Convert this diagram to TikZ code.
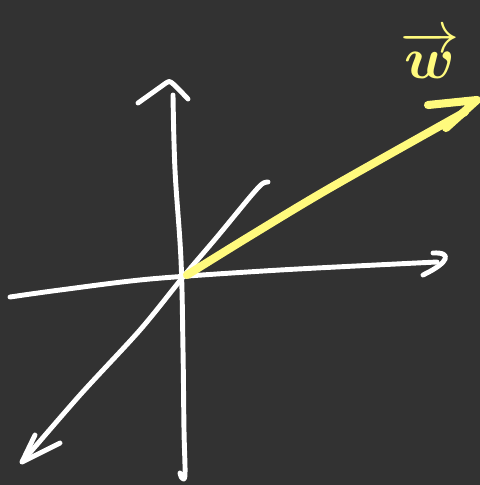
\documentclass[tikz,border=0pt]{standalone}
\usepackage{amsmath}
\usepackage{bm}
\usepackage{tikz}
\definecolor{board}{RGB}{50,50,50}
\definecolor{chalkyellow}{RGB}{255,250,125}

\begin{document}
\begin{tikzpicture}[x=0.02cm, y=-0.02cm,
    chalk/.style={draw=white, line width=2.8pt, line cap=round, line join=round},
    marker/.style={draw=chalkyellow, line width=4.6pt, line cap=round, line join=round},
    lbl/.style={text=chalkyellow, font=\Huge, inner sep=0pt}]
\fill[board] (0,0) rectangle (480,485);
\useasboundingbox (0,0) rectangle (480,485);
\coordinate (o) at (183,277);
% vertical axis
\draw[chalk] plot[smooth, tension=0.6] coordinates {(173,95) (175,170) (181,260) (183,350) (184,430) (185,474) (182,478) (180,473)};
\draw[chalk] (138,103) -- (166,83) .. controls (170,80) .. (188,99);
% horizontal axis
\draw[chalk] plot[smooth] coordinates {(10,297) (60,290) (150,279) (280,270) (437,262)};
\draw[chalk] (433,253) .. controls (452,252) and (450,262) .. (423,275);
% depth axis
\draw[chalk] plot[smooth] coordinates {(22,462) (80,395) (140,330) (o) (217,237) (250,197) (262,184) (268,182)};
\draw[chalk] (35,435) -- (22,462) -- (60,443);
% vector w
\draw[marker] plot[smooth] coordinates {(187,275) (250,236) (330,188) (465,112)};
\draw[marker] (428,105) -- (477,100) -- (446,128);
\node[lbl] (wlabel) at (430,55) {\scalebox{1.35}{$\overrightarrow{\bm{w}}$}};
\end{tikzpicture}
\end{document}
